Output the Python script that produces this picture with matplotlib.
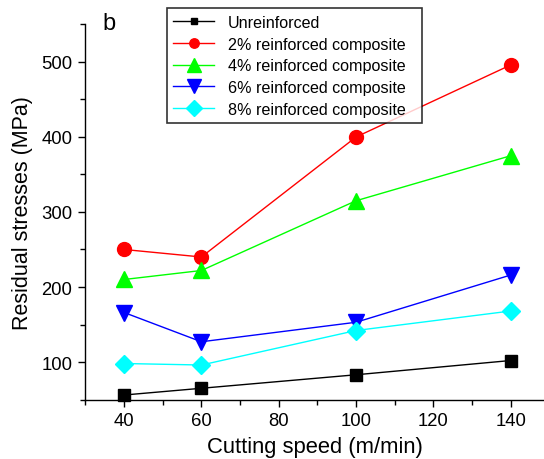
import matplotlib
matplotlib.use("Agg")
import matplotlib.pyplot as plt
from matplotlib.ticker import MultipleLocator

plt.rcParams['font.family'] = ['Liberation Sans', 'DejaVu Sans']

speed = [40, 60, 100, 140]
unreinforced = [56, 65, 83, 102]
comp_2 = [250, 240, 400, 496]
comp_4 = [210, 222, 315, 375]
comp_6 = [166, 127, 153, 216]
comp_8 = [98, 96, 142, 168]

# values, label, colour, marker, size on the plot, size in the legend
series = [
    (unreinforced, 'Unreinforced', 'black', 's', 8.9, 5.0),
    (comp_2, '2% reinforced composite', 'red', 'o', 10.0, 6.8),
    (comp_4, '4% reinforced composite', '#00ff00', '^', 11.0, 9.5),
    (comp_6, '6% reinforced composite', 'blue', 'v', 11.0, 9.5),
    (comp_8, '8% reinforced composite', 'cyan', 'D', 8.8, 8.5),
]

fig = plt.figure(figsize=(5.44, 4.6), dpi=100)
ax = fig.add_axes([0.157, 0.1293, 0.843, 0.817])

for vals, label, color, marker, ms, _ in series:
    ax.plot(speed, vals, color=color, marker=marker, markersize=ms,
            linewidth=1.0, label=label, clip_on=False)

ax.set_xlim(30, 148.6)
ax.set_ylim(50, 551)
ax.xaxis.set_minor_locator(MultipleLocator(10))
ax.yaxis.set_minor_locator(MultipleLocator(50))
ax.set_xticks([40, 60, 80, 100, 120, 140])
ax.set_yticks([100, 200, 300, 400, 500])

for side in ['top', 'right']:
    ax.spines[side].set_visible(False)
ax.spines['left'].set_linewidth(1.0)
ax.spines['bottom'].set_linewidth(1.0)
ax.tick_params(which='major', direction='out', length=5.3, width=1,
               labelsize=13.3, pad=4)
ax.tick_params(which='minor', direction='out', length=3.5, width=1)

ax.set_xlabel('Cutting speed (m/min)', fontsize=15.8, labelpad=5)
ax.set_ylabel('Residual stresses (MPa)', fontsize=15.5, labelpad=6)

ax.text(0.038, 1.03, 'b', transform=ax.transAxes, fontsize=17, va='top')

leg = ax.legend(loc='upper left', bbox_to_anchor=(0.1775, 0.732, 0.556, 0.3085),
                mode='expand', fontsize=11.6,
                frameon=True, fancybox=False, edgecolor='black',
                handlelength=2.53, borderpad=0.41, labelspacing=0.41,
                handletextpad=0.85, borderaxespad=0)
leg.get_frame().set_linewidth(1.2)
for handle, s in zip(leg.legend_handles, series):
    handle.set_markersize(s[5])

fig.savefig('out.png', dpi=100)
